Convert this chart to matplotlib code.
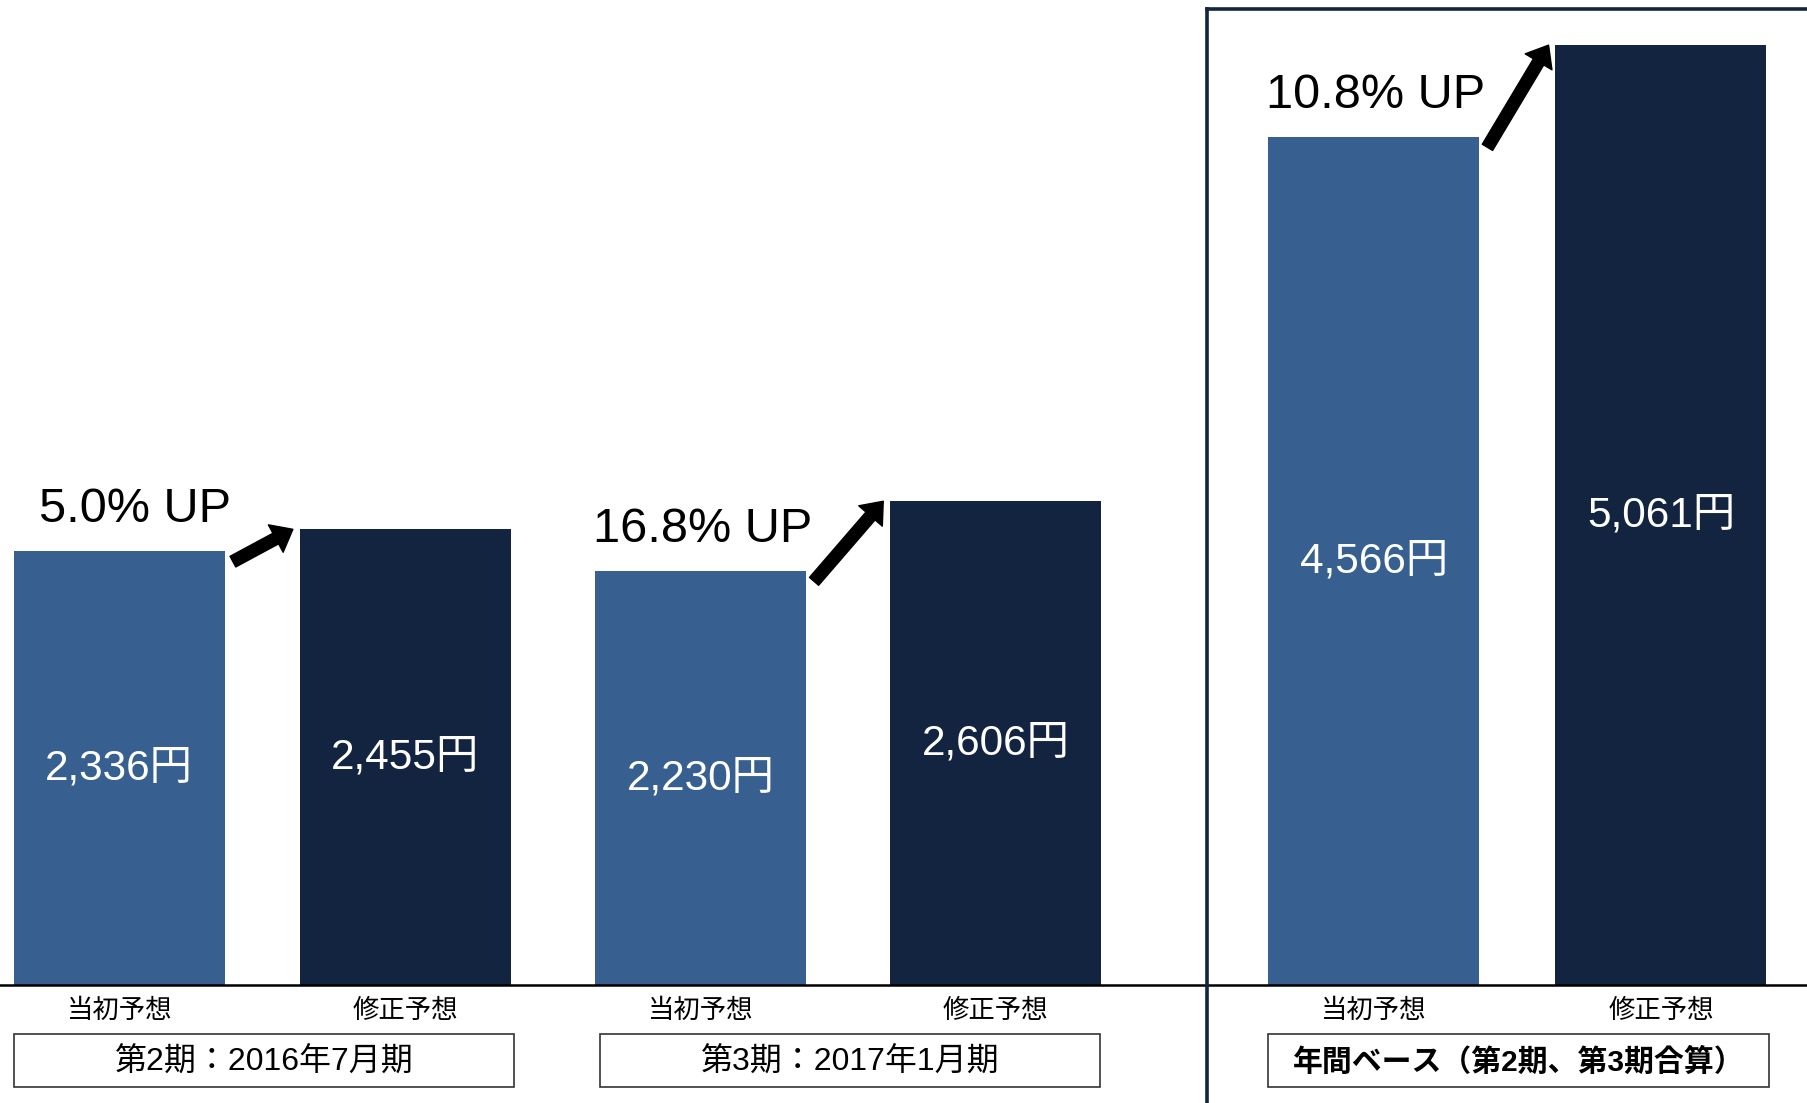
import matplotlib
matplotlib.use("Agg")
import matplotlib.pyplot as plt
from matplotlib.patches import Rectangle, FancyArrowPatch
from matplotlib.transforms import blended_transform_factory

# Datos del grafico
grupos = ['第2期：2016年7月期', '第3期：2017年1月期', '年間ベース（第2期、第3期合算）']
etiquetas_barra = ['当初予想', '修正予想']
inicial = [2336, 2230, 4566]
revisado = [2455, 2606, 5061]
subida = ['5.0% UP', '16.8% UP', '10.8% UP']

# Layout (en unidades de la imagen de referencia, 1568 x 957)
W, H = 1568, 957
base_y = 855
izq_inicial = [12, 516, 1100]
izq_revisado = [260, 772, 1349]
ancho = 183
sep_x = 1047
caja_izq = [12, 520, 1100]
caja_der = [446, 954, 1534]

color_claro = '#376091'
color_oscuro = '#12243F'
color_marco = '#14253F'
fuente = ['Liberation Sans', 'Noto Sans CJK JP', 'DejaVu Sans']
plt.rcParams['font.family'] = fuente

fig = plt.figure(figsize=(18.08, 11.03), dpi=100)
ax = fig.add_axes([0, (H - base_y) / H, 1, base_y / H])
ax.set_xlim(0, W)
ax.set_ylim(0, base_y / 0.1612)
ax.axis('off')

ax.bar(izq_inicial, inicial, width=ancho, align='edge', color=color_claro)
ax.bar(izq_revisado, revisado, width=ancho, align='edge', color=color_oscuro)
ax.axhline(0, color='black', lw=1.8, clip_on=False)

trans = blended_transform_factory(ax.transData, fig.transFigure)

for i in range(3):
    xi, xr = izq_inicial[i], izq_revisado[i]
    vi, vr = inicial[i], revisado[i]
    # valores dentro de las barras
    ax.text(xi + ancho / 2, vi / 2, f'{vi:,}円', color='white', fontsize=30.5,
            ha='center', va='center')
    ax.text(xr + ancho / 2, vr / 2, f'{vr:,}円', color='white', fontsize=30.5,
            ha='center', va='center')
    # porcentaje
    ax.annotate(subida[i], xy=(xi + ancho + 5, vi), xytext=(0, 30),
                textcoords='offset points', ha='right', va='center', fontsize=35)
    # flecha
    flecha = FancyArrowPatch((xi + ancho + 7, vi - 55), (xr - 6, vr),
                             arrowstyle='simple,head_length=1.0,head_width=1.6,tail_width=0.62',
                             mutation_scale=14, color='black', shrinkA=0, shrinkB=0)
    ax.add_patch(flecha)
    # etiquetas de barra
    for x0, lab in zip([xi, xr], etiquetas_barra):
        ax.text(x0 + ancho / 2, 1 - 877 / H, lab, transform=trans, fontsize=19,
                ha='center', va='center', family=['Noto Sans CJK JP'])
    # caja del grupo
    caja = Rectangle((caja_izq[i], 1 - 943 / H), caja_der[i] - caja_izq[i], 46 / H,
                     transform=trans, fill=False, edgecolor='#333333', lw=1.2,
                     clip_on=False)
    ax.add_patch(caja)
    ax.text((caja_izq[i] + caja_der[i]) / 2, 1 - 922 / H, grupos[i], transform=trans,
            fontsize=21.5 if i == 2 else 23, ha='center', va='center',
            fontweight='bold' if i == 2 else 'normal')

# marco del total anual
ax.plot([sep_x, sep_x], [0, 1 - 8 / H], transform=trans, color=color_marco,
        lw=2.6, clip_on=False, solid_capstyle='projecting')
ax.plot([sep_x, W], [1 - 8 / H, 1 - 8 / H], transform=trans, color=color_marco,
        lw=2.6, clip_on=False, solid_capstyle='projecting')

fig.savefig('out.png', dpi=100)
